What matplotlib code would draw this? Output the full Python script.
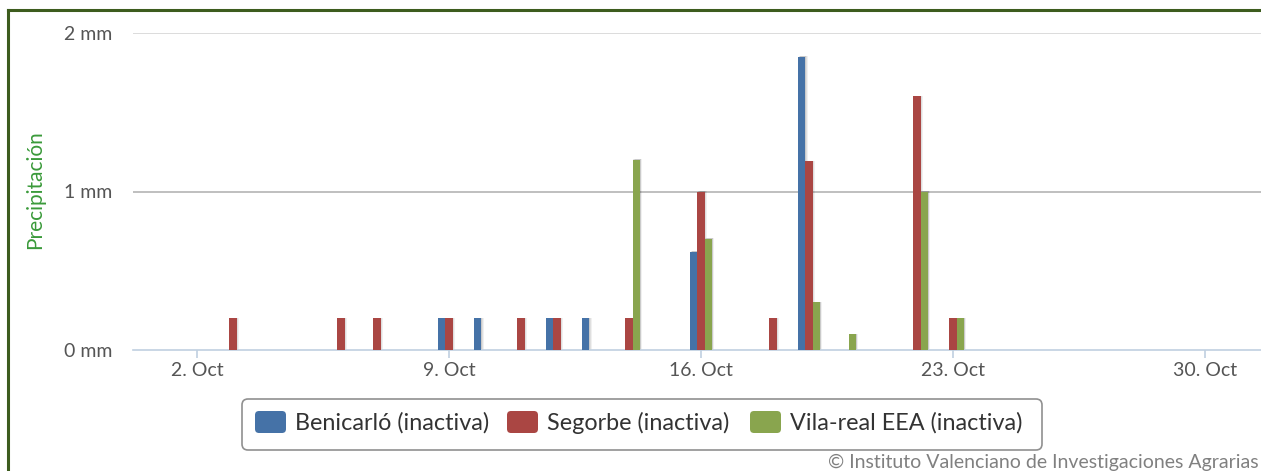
import matplotlib
matplotlib.use("Agg")
import matplotlib.pyplot as plt
from matplotlib.lines import Line2D
from matplotlib.patches import FancyBboxPatch
import numpy as np

# ---- data ----
days = list(range(1, 32))
tick_days = [2, 9, 16, 23, 30]
tick_labels = ["2. Oct", "9. Oct", "16. Oct", "23. Oct", "30. Oct"]
y_ticks = [0, 1, 2]
y_tick_labels = ["0 mm", "1 mm", "2 mm"]
series_names = ["Benicarló (inactiva)", "Segorbe (inactiva)", "Vila-real EEA (inactiva)"]
series_colors = ["#4572A7", "#AA4643", "#89A54E"]

benicarlo = {9: 0.2, 10: 0.2, 12: 0.2, 13: 0.2, 16: 0.62, 19: 1.85}
segorbe = {3: 0.2, 6: 0.2, 7: 0.2, 9: 0.2, 11: 0.2, 12: 0.2, 14: 0.2,
           16: 1.0, 18: 0.2, 19: 1.19, 22: 1.6, 23: 0.2}
vilareal = {14: 1.2, 16: 0.7, 19: 0.3, 20: 0.1, 22: 1.0, 23: 0.2}
series = [benicarlo, segorbe, vilareal]

plt.rcParams["font.family"] = ["Lato", "DejaVu Sans"]

W, H = 1261, 471
fig = plt.figure(figsize=(W / 100, H / 100), dpi=100)
fig.patch.set_facecolor("white")

ax_left = 133 / W
ax_bottom = (H - 350) / H
ax_top = (H - 33) / H
ax = fig.add_axes([ax_left, ax_bottom, 1.0 - ax_left, ax_top - ax_bottom])
ax.set_facecolor("white")

x0 = 2 - 64 / 36.0
x1 = 2 + (W - 197) / 36.0
ax.set_xlim(x0, x1)
ax.set_ylim(0, 2)

bw = 0.2
offsets = [-0.2, 0.0, 0.2]
for s, col, off in zip(series, series_colors, offsets):
    xs = np.array(list(s.keys()), dtype=float) + off
    vs = np.array(list(s.values()))
    # subtle shadow
    for k, a in [(0.06, 0.10), (0.04, 0.12), (0.02, 0.15)]:
        ax.bar(xs + k, vs + 0.004, width=bw, color="#000000", alpha=a * 0.6,
               linewidth=0, zorder=2)
    ax.bar(xs, vs, width=bw, color=col, linewidth=0, zorder=3)

# grid lines
ax.axhline(1, color="#b4b4b4", lw=1.2, zorder=1)
ax.axhline(2, color="#d6d6d6", lw=1.2, zorder=1)

for sp in ["top", "right", "left"]:
    ax.spines[sp].set_visible(False)
ax.spines["bottom"].set_color("#c0d0e0")
ax.spines["bottom"].set_linewidth(1.2)

ax.set_xticks(tick_days)
ax.set_xticklabels(tick_labels)
ax.set_yticks(y_ticks)
ax.set_yticklabels(y_tick_labels)
ax.tick_params(axis="x", colors="#c0d0e0", length=6, width=1.2, direction="out",
               labelcolor="#555555", labelsize=14, pad=3)
ax.tick_params(axis="y", length=0, labelcolor="#555555", labelsize=14, pad=15)

fig.text(35 / W, 1 - 190 / H, "Precipitación", rotation=90, color="#3a9a3a",
         fontsize=15, ha="center", va="center")

# legend box
lx0, lx1, ly0, ly1 = 242, 1042, 399, 450
box = FancyBboxPatch((lx0, H - ly1), (lx1 - lx0), (ly1 - ly0),
                     boxstyle="round,pad=0,rounding_size=6",
                     transform=None, facecolor="white",
                     edgecolor="#909090", linewidth=1.2)
fig.patches.append(box)
item_x = [255, 507, 750]
for x, name, col in zip(item_x, series_names, series_colors):
    sq = FancyBboxPatch((x, H - 433), 31, 22,
                        boxstyle="round,pad=0,rounding_size=4",
                        transform=None, facecolor=col, edgecolor="none")
    fig.patches.append(sq)
    fig.text((x + 40) / W, 1 - 423 / H, name, fontsize=16.8, color="#333333",
             ha="left", va="center")

fig.text(1259 / W, 1 - 462 / H, "© Instituto Valenciano de Investigaciones Agrarias",
         fontsize=14, color="#808080", ha="right", va="center")

# outer dark green border (top and left)
fig.add_artist(Line2D([7.5 / W, 7.5 / W], [0, 1 - 9.5 / H], transform=fig.transFigure,
                      color="#3d5c1e", lw=2.2))
fig.add_artist(Line2D([7.5 / W, 1], [1 - 9.5 / H, 1 - 9.5 / H], transform=fig.transFigure,
                      color="#3d5c1e", lw=2.2))

fig.savefig("out.png", dpi=100, facecolor="white")
